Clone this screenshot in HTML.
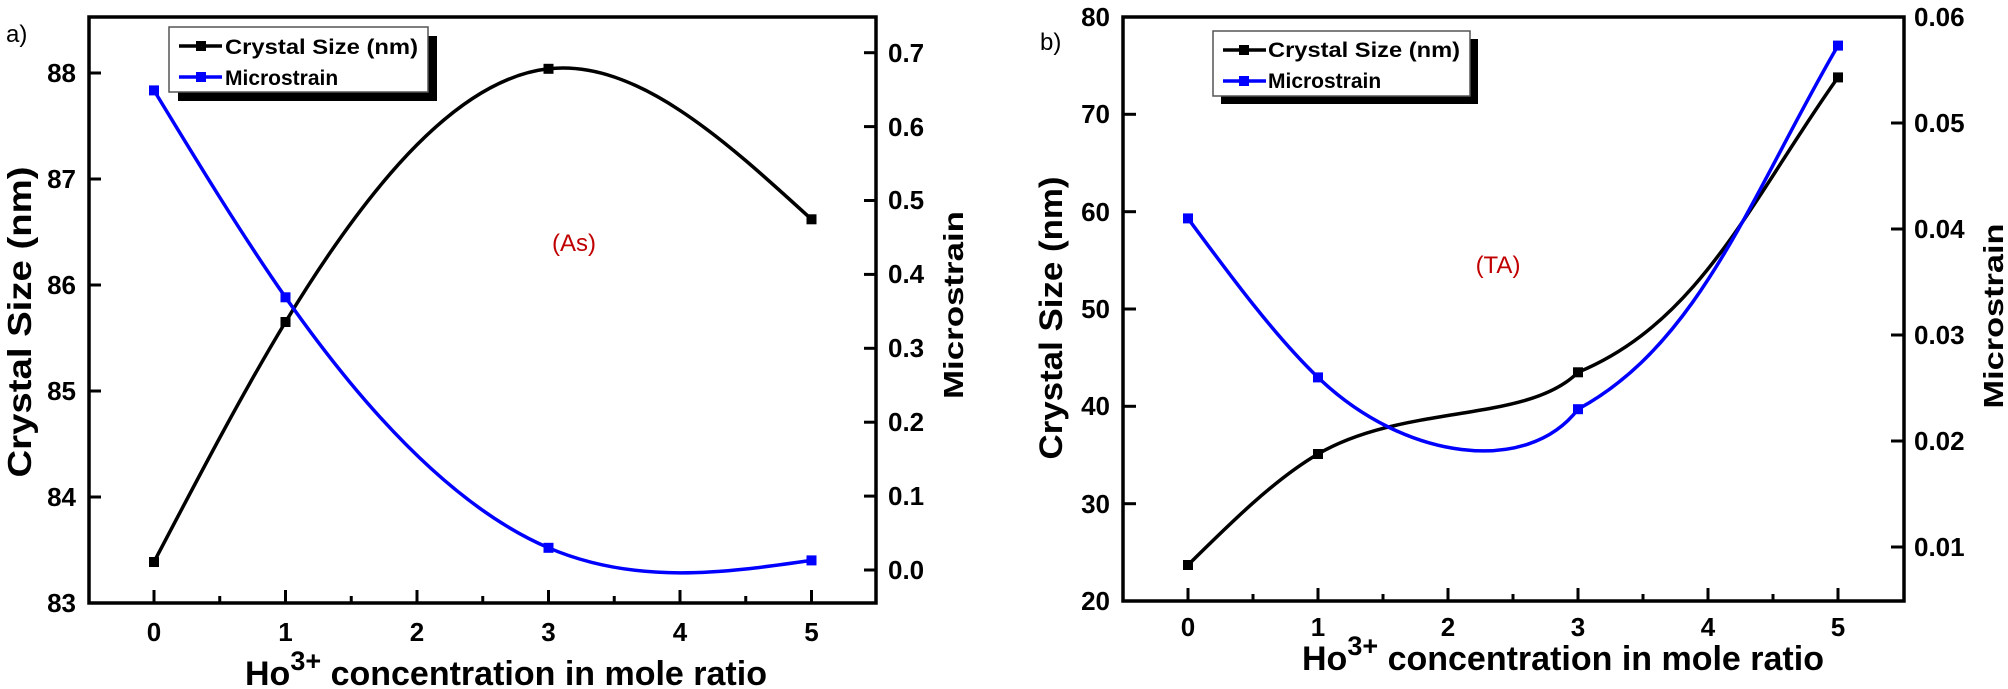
<!DOCTYPE html>
<html><head><meta charset="utf-8"><style>
html,body{margin:0;padding:0;background:#fff;}
svg{display:block;font-family:"Liberation Sans",Arial,sans-serif;}
.t{font-weight:bold;font-size:26px;fill:#000;}
.ax{fill:none;stroke:#000;stroke-width:3.5;}
.tk{stroke:#000;stroke-width:3;}
.lg{font-weight:bold;font-size:21px;}
</style></head><body>
<svg width="2008" height="689" viewBox="0 0 2008 689" xmlns="http://www.w3.org/2000/svg">
<!-- ===== Panel a ===== -->
<text x="6" y="42" font-size="24" fill="#000">a)</text>
<rect class="ax" x="89" y="17" width="787" height="586"/>
<g class="tk">
<line x1="89" y1="603" x2="101" y2="603"/><line x1="89" y1="497" x2="101" y2="497"/><line x1="89" y1="391" x2="101" y2="391"/><line x1="89" y1="285" x2="101" y2="285"/><line x1="89" y1="179" x2="101" y2="179"/><line x1="89" y1="73" x2="101" y2="73"/>
<line x1="154" y1="603" x2="154" y2="590"/><line x1="285.5" y1="603" x2="285.5" y2="590"/><line x1="417" y1="603" x2="417" y2="590"/><line x1="548.5" y1="603" x2="548.5" y2="590"/><line x1="680" y1="603" x2="680" y2="590"/><line x1="811.5" y1="603" x2="811.5" y2="590"/>
<line x1="219.75" y1="603" x2="219.75" y2="596"/><line x1="351.25" y1="603" x2="351.25" y2="596"/><line x1="482.75" y1="603" x2="482.75" y2="596"/><line x1="614.25" y1="603" x2="614.25" y2="596"/><line x1="745.75" y1="603" x2="745.75" y2="596"/>
<line x1="876" y1="570" x2="864" y2="570"/><line x1="876" y1="496.1" x2="864" y2="496.1"/><line x1="876" y1="422.2" x2="864" y2="422.2"/><line x1="876" y1="348.3" x2="864" y2="348.3"/><line x1="876" y1="274.4" x2="864" y2="274.4"/><line x1="876" y1="200.5" x2="864" y2="200.5"/><line x1="876" y1="126.6" x2="864" y2="126.6"/><line x1="876" y1="52.7" x2="864" y2="52.7"/>
</g>
<g class="t" text-anchor="end">
<text x="76" y="612">83</text><text x="76" y="506">84</text><text x="76" y="400">85</text><text x="76" y="294">86</text><text x="76" y="188">87</text><text x="76" y="82">88</text>
</g>
<g class="t" text-anchor="middle">
<text x="154" y="641">0</text><text x="285.5" y="641">1</text><text x="417" y="641">2</text><text x="548.5" y="641">3</text><text x="680" y="641">4</text><text x="811.5" y="641">5</text>
</g>
<g class="t">
<text x="888" y="579">0.0</text><text x="888" y="505">0.1</text><text x="888" y="431">0.2</text><text x="888" y="357">0.3</text><text x="888" y="283">0.4</text><text x="888" y="209">0.5</text><text x="888" y="136">0.6</text><text x="888" y="62">0.7</text>
</g>
<text transform="translate(31,322) rotate(-90)" text-anchor="middle" font-weight="bold" font-size="33" textLength="311" lengthAdjust="spacingAndGlyphs">Crystal Size (nm)</text>
<text transform="translate(963,305) rotate(-90)" text-anchor="middle" font-weight="bold" font-size="28" textLength="188" lengthAdjust="spacingAndGlyphs">Microstrain</text>
<text x="245" y="685" font-weight="bold" font-size="34">Ho<tspan font-size="27" dy="-15">3+</tspan><tspan dy="15"> concentration in mole ratio</tspan></text>
<text x="574" y="251" text-anchor="middle" font-size="24" fill="#c00000">(As)</text>
<path d="M154,562 C197.8,478.4 241.7,394.3 285.5,322 C373.2,177.4 460.8,78.4 548.5,68.8 C636.2,59.2 723.8,139.2 811.5,219.3" fill="none" stroke="#000" stroke-width="3.5"/>
<path d="M154,90.4 C197.8,162.5 241.7,234.6 285.5,297.3 C373.2,422.6 460.8,510.3 548.5,547.8 C636.2,585.3 723.8,572.9 811.5,560.4" fill="none" stroke="#0000ff" stroke-width="3.5"/>
<g fill="#000"><rect x="149" y="557" width="10" height="10"/><rect x="280.5" y="317" width="10" height="10"/><rect x="543.5" y="63.8" width="10" height="10"/><rect x="806.5" y="214.3" width="10" height="10"/></g>
<g fill="#0000ff"><rect x="149" y="85.4" width="10" height="10"/><rect x="280.5" y="292.3" width="10" height="10"/><rect x="543.5" y="542.8" width="10" height="10"/><rect x="806.5" y="555.4" width="10" height="10"/></g>
<rect x="178" y="36" width="259" height="65" fill="#000"/>
<rect x="169" y="27" width="259" height="65" fill="#fff" stroke="#555" stroke-width="1.5"/>
<line x1="179" y1="46" x2="222" y2="46" stroke="#000" stroke-width="3.5"/><rect x="196" y="41" width="10" height="10" fill="#000"/>
<line x1="179" y1="77" x2="222" y2="77" stroke="#0000ff" stroke-width="3.5"/><rect x="196" y="72" width="10" height="10" fill="#0000ff"/>
<text class="lg" x="225" y="54" textLength="193" lengthAdjust="spacingAndGlyphs">Crystal Size (nm)</text>
<text class="lg" x="225" y="85">Microstrain</text>

<!-- ===== Panel b ===== -->
<text x="1040" y="50" font-size="24" fill="#000">b)</text>
<rect class="ax" x="1123" y="17" width="781" height="584"/>
<g class="tk">
<line x1="1123" y1="601" x2="1136" y2="601"/><line x1="1123" y1="503.7" x2="1136" y2="503.7"/><line x1="1123" y1="406.3" x2="1136" y2="406.3"/><line x1="1123" y1="309" x2="1136" y2="309"/><line x1="1123" y1="211.7" x2="1136" y2="211.7"/><line x1="1123" y1="114.3" x2="1136" y2="114.3"/><line x1="1123" y1="17" x2="1136" y2="17"/>
<line x1="1188" y1="601" x2="1188" y2="588"/><line x1="1318" y1="601" x2="1318" y2="588"/><line x1="1448" y1="601" x2="1448" y2="588"/><line x1="1578" y1="601" x2="1578" y2="588"/><line x1="1708" y1="601" x2="1708" y2="588"/><line x1="1838" y1="601" x2="1838" y2="588"/>
<line x1="1253" y1="601" x2="1253" y2="594"/><line x1="1383" y1="601" x2="1383" y2="594"/><line x1="1513" y1="601" x2="1513" y2="594"/><line x1="1643" y1="601" x2="1643" y2="594"/><line x1="1773" y1="601" x2="1773" y2="594"/>
<line x1="1904" y1="547" x2="1891" y2="547"/><line x1="1904" y1="441" x2="1891" y2="441"/><line x1="1904" y1="335" x2="1891" y2="335"/><line x1="1904" y1="229" x2="1891" y2="229"/><line x1="1904" y1="123" x2="1891" y2="123"/><line x1="1904" y1="17" x2="1891" y2="17"/>
</g>
<g class="t" text-anchor="end">
<text x="1110" y="610">20</text><text x="1110" y="513">30</text><text x="1110" y="415">40</text><text x="1110" y="318">50</text><text x="1110" y="221">60</text><text x="1110" y="123">70</text><text x="1110" y="26">80</text>
</g>
<g class="t" text-anchor="middle">
<text x="1188" y="636">0</text><text x="1318" y="636">1</text><text x="1448" y="636">2</text><text x="1578" y="636">3</text><text x="1708" y="636">4</text><text x="1838" y="636">5</text>
</g>
<g class="t">
<text x="1914" y="556">0.01</text><text x="1914" y="450">0.02</text><text x="1914" y="344">0.03</text><text x="1914" y="238">0.04</text><text x="1914" y="132">0.05</text><text x="1914" y="26">0.06</text>
</g>
<text transform="translate(1062,318) rotate(-90)" text-anchor="middle" font-weight="bold" font-size="32" textLength="283" lengthAdjust="spacingAndGlyphs">Crystal Size (nm)</text>
<text transform="translate(2003,316) rotate(-90)" text-anchor="middle" font-weight="bold" font-size="28" textLength="185" lengthAdjust="spacingAndGlyphs">Microstrain</text>
<text x="1302" y="670" font-weight="bold" font-size="34">Ho<tspan font-size="27" dy="-15">3+</tspan><tspan dy="15"> concentration in mole ratio</tspan></text>
<text x="1498" y="273" text-anchor="middle" font-size="24" fill="#c00000">(TA)</text>
<path d="M1188,565 C1231.3,522.2 1274.7,479.3 1318,454 C1404.7,403.5 1527.3,423.3 1578,372.3 C1700.7,321.3 1751.3,199.3 1838,77.4" fill="none" stroke="#000" stroke-width="3.5"/>
<path d="M1188,218.4 C1231.3,277.1 1274.7,335.7 1318,377.4 C1404.7,460.7 1527.3,475.8 1578,409.2 C1700.7,342.6 1751.3,194.1 1838,45.6" fill="none" stroke="#0000ff" stroke-width="3.5"/>
<g fill="#000"><rect x="1183" y="560" width="10" height="10"/><rect x="1313" y="449" width="10" height="10"/><rect x="1573" y="367.3" width="10" height="10"/><rect x="1833" y="72.4" width="10" height="10"/></g>
<g fill="#0000ff"><rect x="1183" y="213.4" width="10" height="10"/><rect x="1313" y="372.4" width="10" height="10"/><rect x="1573" y="404.2" width="10" height="10"/><rect x="1833" y="40.6" width="10" height="10"/></g>
<rect x="1221" y="39" width="257" height="65" fill="#000"/>
<rect x="1213" y="31" width="257" height="65" fill="#fff" stroke="#555" stroke-width="1.5"/>
<line x1="1223" y1="50" x2="1266" y2="50" stroke="#000" stroke-width="3.5"/><rect x="1239" y="45" width="10" height="10" fill="#000"/>
<line x1="1223" y1="81" x2="1266" y2="81" stroke="#0000ff" stroke-width="3.5"/><rect x="1239" y="76" width="10" height="10" fill="#0000ff"/>
<text class="lg" x="1268" y="57" textLength="192" lengthAdjust="spacingAndGlyphs">Crystal Size (nm)</text>
<text class="lg" x="1268" y="88">Microstrain</text>
</svg>
</body></html>
